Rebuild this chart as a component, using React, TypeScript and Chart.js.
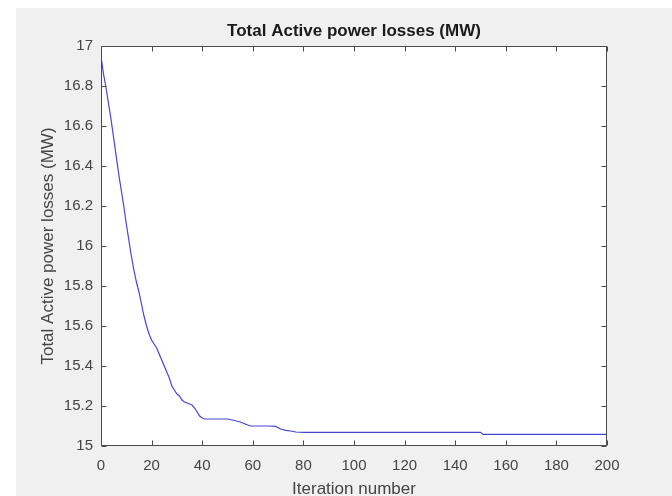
import { useEffect, useRef } from "react";
import { Chart, registerables } from "chart.js";

Chart.register(...registerables);

const iterations = [
  0, 1, 2, 3, 4, 5, 6, 7, 8, 9, 10, 11, 12, 13, 14, 15, 16, 17, 18, 19, 20,
  21, 22, 23, 24, 25, 26, 27, 28, 29, 30, 31, 32, 33, 34, 35, 36, 37, 38, 39,
  40, 41, 45, 50, 52, 55, 57, 59, 62, 66, 69, 71, 73, 75, 77, 80, 100, 120,
  150, 151, 170, 200,
];

// Total active power losses (MW)
const losses = [
  16.95, 16.86, 16.79, 16.71, 16.63, 16.54, 16.45, 16.36, 16.28, 16.2, 16.11,
  16.03, 15.95, 15.88, 15.82, 15.77, 15.71, 15.65, 15.6, 15.56, 15.53, 15.51,
  15.49, 15.46, 15.43, 15.4, 15.37, 15.34, 15.3, 15.28, 15.26, 15.25, 15.23,
  15.22, 15.215, 15.21, 15.205, 15.19, 15.17, 15.15, 15.14, 15.135, 15.135,
  15.135, 15.13, 15.12, 15.11, 15.1, 15.1, 15.1, 15.098, 15.085, 15.078,
  15.075, 15.07, 15.068, 15.068, 15.068, 15.068, 15.058, 15.058, 15.058,
];

const xMin = 0;
const xMax = 200;
const xStep = 20;
const yMin = 15;
const yMax = 17;
const yStep = 0.2;

const chartTitle = "Total Active power losses (MW)";
const xTitle = "Iteration number";
const yTitle = "Total Active power losses (MW)";

const FONT = "'Liberation Sans', Arial, Helvetica, sans-serif";
const TEXT = "#444444";
const AXIS = "#4a4a4a";

const framePlugin = {
  id: "matlabFrame",
  beforeDraw(chart: any) {
    const { ctx, chartArea: a } = chart;
    ctx.save();
    ctx.fillStyle = "#ffffff";
    ctx.fillRect(a.left, a.top, a.right - a.left, a.bottom - a.top);
    ctx.restore();
  },
  afterDatasetsDraw(chart: any) {
    const { ctx, chartArea: a, scales } = chart;
    const L = Math.round(a.left) + 0.5;
    const R = Math.round(a.right) - 0.5;
    const T = Math.round(a.top) + 0.5;
    const B = Math.round(a.bottom) - 0.5;
    const len = 5;
    ctx.save();
    ctx.strokeStyle = AXIS;
    ctx.lineWidth = 1;
    ctx.beginPath();
    ctx.rect(L, T, R - L, B - T);
    scales.x.ticks.forEach((t: any) => {
      const px = Math.round(scales.x.getPixelForValue(t.value)) + 0.5;
      ctx.moveTo(px, B);
      ctx.lineTo(px, B - len);
      ctx.moveTo(px, T);
      ctx.lineTo(px, T + len);
    });
    scales.y.ticks.forEach((t: any) => {
      const py = Math.round(scales.y.getPixelForValue(t.value)) + 0.5;
      ctx.moveTo(L, py);
      ctx.lineTo(L + len, py);
      ctx.moveTo(R, py);
      ctx.lineTo(R - len, py);
    });
    ctx.stroke();
    ctx.restore();
  },
};

export default function App() {
  const canvasRef = useRef<HTMLCanvasElement | null>(null);

  useEffect(() => {
    if (!canvasRef.current) return;
    const points = iterations.map((x, i) => ({ x, y: losses[i] }));
    const chart = new Chart(canvasRef.current, {
      type: "line",
      data: {
        datasets: [
          {
            data: points,
            borderColor: "#4646d4",
            borderWidth: 1.2,
            pointRadius: 0,
            tension: 0,
            fill: false,
          },
        ],
      },
      options: {
        animation: false,
        responsive: false,
        maintainAspectRatio: false,
        layout: { padding: { top: 0, left: 0, right: 65, bottom: 0 } },
        plugins: {
          legend: { display: false },
          tooltip: { enabled: false },
          title: {
            display: true,
            text: chartTitle,
            fullSize: false,
            color: "#1a1a1a",
            font: { family: FONT, size: 17, weight: "bold", lineHeight: 1.2 },
            padding: { top: 20.8, bottom: 4.8 },
          },
        },
        scales: {
          x: {
            type: "linear",
            min: xMin,
            max: xMax,
            afterFit(scale: any) {
              scale.height = 50;
            },
            ticks: {
              stepSize: xStep,
              color: TEXT,
              padding: 11,
              maxRotation: 0,
              font: { family: FONT, size: 15 },
            },
            grid: { display: false, drawTicks: false },
            border: { display: false },
            title: {
              display: true,
              text: xTitle,
              color: TEXT,
              font: { family: FONT, size: 17, lineHeight: 0.8 },
              padding: { top: 0, bottom: 0 },
            },
          },
          y: {
            type: "linear",
            min: yMin,
            max: yMax,
            afterFit(scale: any) {
              scale.width = 101;
            },
            ticks: {
              stepSize: yStep,
              color: TEXT,
              padding: 8,
              font: { family: FONT, size: 15 },
              callback: (v: any) => String(Number(Number(v).toFixed(2))),
            },
            grid: { display: false, drawTicks: false },
            border: { display: false },
            title: {
              display: true,
              text: yTitle,
              color: TEXT,
              font: { family: FONT, size: 17, lineHeight: 1.2 },
              padding: { top: 37.8, bottom: 0 },
            },
          },
        },
      },
      plugins: [framePlugin],
    });
    return () => chart.destroy();
  }, []);

  return (
    <div
      style={{
        position: "fixed",
        left: 0,
        top: 0,
        width: 672,
        height: 496,
        background: "#ffffff",
        overflow: "hidden",
      }}
    >
      <div
        style={{
          position: "absolute",
          left: 16,
          top: 8,
          width: 656,
          height: 488,
          background: "#f0f0f0",
        }}
      />
      <canvas
        ref={canvasRef}
        width={672}
        height={496}
        style={{ position: "absolute", left: 0, top: 0, width: 672, height: 496 }}
      />
    </div>
  );
}
